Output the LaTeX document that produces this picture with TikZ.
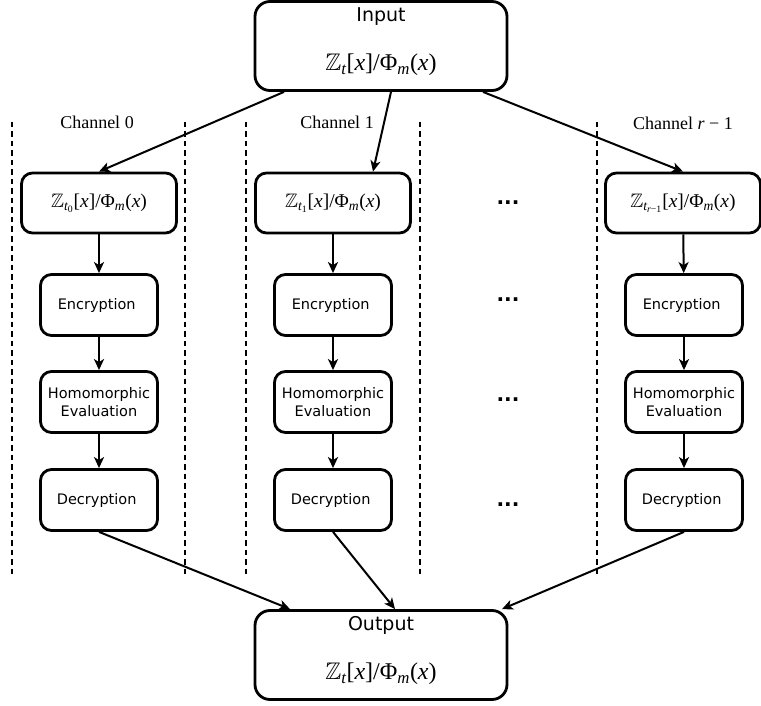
\documentclass[tikz,border=0pt]{standalone}
\usepackage{amsmath}
\usepackage{amssymb}
\usepackage{fontspec}
\setmainfont{Liberation Serif}
\newfontfamily\boxfont{DejaVu Sans}
\usepackage{tikz}
\usetikzlibrary{positioning}
\usetikzlibrary{arrows.meta}

\newcommand{\ringq}[1]{$\mathbb{Z}_{#1}\text{[\textit{x}]/Φ}_{\textit{m}}\text{(\textit{x})}$}
\newcommand{\bigq}{{\rmfamily\fontsize{24}{28}\selectfont\ringq{\textit{t}}}}

\tikzset{
  bigbox/.style={draw, line width=2.8pt, rounded corners=15pt, minimum width=252pt, minimum height=89pt, align=center, font=\boxfont\fontsize{19}{22}\selectfont},
  ringbox/.style={draw, line width=2.8pt, rounded corners=11pt, minimum width=155pt, minimum height=60pt, font=\rmfamily\fontsize{19.5}{23}\selectfont},
  stepbox/.style={draw, line width=2.8pt, rounded corners=11pt, minimum width=117pt, minimum height=61pt, align=center, font=\boxfont\fontsize{14.5}{17.5}\selectfont},
  chan/.style={font=\fontsize{18}{21}\selectfont},
  sep/.style={line width=2pt, dash pattern=on 5.5pt off 4pt},
  flow/.style={->, line width=2pt},
  more/.style={font=\boxfont\bfseries\fontsize{20}{22}\selectfont},
}

\begin{document}
\begin{tikzpicture}[x=1pt, y=-1pt, >={Stealth[length=11pt, width=10pt, inset=3pt]}]
  \useasboundingbox (0,0) rectangle (761,706);

  \node[bigbox] at (381,46) (input) { Input \\[27pt] \bigq \\[-8pt] {} };
  \node[bigbox] at (381,655) (output) { Output \\[27pt] \bigq \\[-8pt] {} };

  \node[chan] at (97,122) (chan-0) { Channel 0 };
  \node[chan] at (337,122) (chan-1) { Channel 1 };
  \node[chan] at (683,123) (chan-r) { Channel \textit{r} − 1 };

  \draw[sep] (12,122) -- (12,575);
  \draw[sep] (185,122) -- (185,575);
  \draw[sep] (246,122) -- (246,575);
  \draw[sep] (420,122) -- (420,575);
  \draw[sep] (597,122) -- (597,575);

  % channel 0
  \node[ringbox] at (99,203) (ring-0) { \ringq{\textit{t}_{\text{0}}} };
  \node[stepbox] at (99,305) (enc-0) { Encryption };
  \node[stepbox] at (99,402) (eval-0) { Homomorphic \\ Evaluation };
  \node[stepbox] at (99,500) (dec-0) { Decryption };

  % channel 1
  \node[ringbox] at (333,203) (ring-1) { \ringq{\textit{t}_{\text{1}}} };
  \node[stepbox] at (333,305) (enc-1) { Encryption };
  \node[stepbox] at (333,402) (eval-1) { Homomorphic \\ Evaluation };
  \node[stepbox] at (333,500) (dec-1) { Decryption };

  % channel r-1
  \node[ringbox] at (683,203) (ring-r) { \ringq{\textit{t}_{\textit{r}\text{−1}}} };
  \node[stepbox] at (684,305) (enc-r) { Encryption };
  \node[stepbox] at (684,402) (eval-r) { Homomorphic \\ Evaluation };
  \node[stepbox] at (684,500) (dec-r) { Decryption };

  \node[more] at (508,203) (more-ring) { ... };
  \node[more] at (508,300) (more-enc) { ... };
  \node[more] at (508,400) (more-eval) { ... };
  \node[more] at (508,505) (more-dec) { ... };

  \draw[flow] ([xshift=-97pt]input.south) -- (ring-0.north);
  \draw[flow] ([xshift=10pt]input.south) -- ([xshift=40pt]ring-1.north);
  \draw[flow] ([xshift=102pt]input.south) -- (ring-r.north);

  \draw[flow] (ring-0) -- (enc-0);
  \draw[flow] (enc-0) -- (eval-0);
  \draw[flow] (eval-0) -- (dec-0);

  \draw[flow] (ring-1) -- (enc-1);
  \draw[flow] (enc-1) -- (eval-1);
  \draw[flow] (eval-1) -- (dec-1);

  \draw[flow] (ring-r) -- (enc-r);
  \draw[flow] (enc-r) -- (eval-r);
  \draw[flow] (eval-r) -- (dec-r);

  \draw[flow] (dec-0.south) -- ([xshift=-91pt]output.north);
  \draw[flow] (dec-1.south) -- ([xshift=14pt]output.north);
  \draw[flow] (dec-r.south) -- ([xshift=121pt]output.north);
\end{tikzpicture}
\end{document}
